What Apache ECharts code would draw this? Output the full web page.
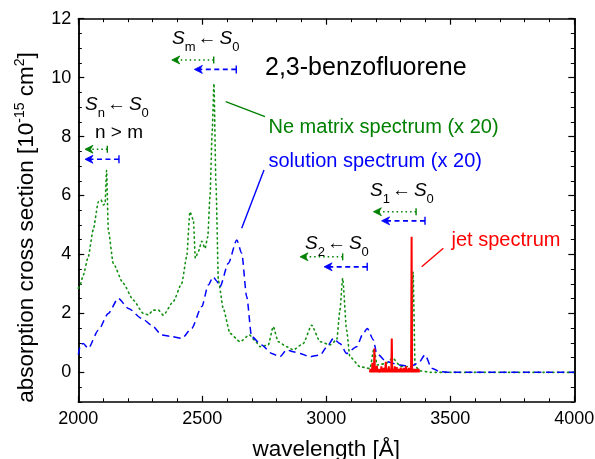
<!DOCTYPE html>
<html>
<head>
<meta charset="utf-8">
<script src="https://cdn.jsdelivr.net/npm/echarts@6/dist/echarts.min.js"></script>
<style>
  html, body { margin: 0; padding: 0; background: #fff; }
  #chart { width: 595px; height: 459px; }
</style>
</head>
<body>
<div id="chart"></div>
<script>
// Ne-matrix absorption spectrum (scaled x 20), cross section in 1e-15 cm^2
const neWavelength = [2000, 2007, 2020, 2040, 2060, 2081, 2092, 2101, 2108, 2114, 2121, 2141, 2181, 2222, 2262, 2282, 2302, 2323, 2343, 2383, 2417, 2437, 2450, 2464, 2472, 2484, 2498, 2511, 2522, 2531, 2540, 2547, 2555, 2565, 2585, 2612, 2652, 2690, 2710, 2733, 2766, 2786, 2806, 2840, 2867, 2907, 2941, 2975, 3015, 3042, 3055, 3066, 3082, 3095, 3136, 3176, 3192, 3205, 3240, 3268, 3300, 3342, 3350, 3358, 3380, 3420, 3500, 3600, 3700, 3800, 3900, 4000];
const neCross = [2.85, 2.96, 3.3, 3.92, 4.83, 5.79, 5.85, 5.68, 5.72, 6.85, 4.83, 3.7, 3.02, 2.45, 2.0, 1.95, 2.11, 2.11, 1.94, 2.4, 3.02, 3.92, 5.45, 5.17, 3.87, 4.1, 4.45, 4.2, 4.6, 5.96, 8.2, 9.8, 6.4, 3.1, 2.15, 1.32, 1.04, 1.27, 1.1, 0.87, 0.93, 1.55, 1.04, 0.87, 0.76, 0.98, 1.6, 1.04, 0.93, 1.1, 2.11, 3.19, 1.43, 0.53, 0.19, 0.13, 0.8, 0.25, 0.3, 0.48, 0.2, 0.2, 3.4, 0.2, 0.05, 0, 0, 0, 0, 0, 0, 0];

// Solution absorption spectrum (scaled x 20)
const solWavelength = [2000, 2010, 2020, 2040, 2081, 2121, 2161, 2202, 2256, 2296, 2336, 2377, 2417, 2457, 2498, 2524, 2544, 2558, 2571, 2605, 2639, 2659, 2679, 2699, 2739, 2780, 2813, 2840, 2867, 2894, 2934, 2975, 3008, 3028, 3055, 3082, 3122, 3149, 3165, 3190, 3203, 3243, 3297, 3337, 3371, 3398, 3425, 3458, 3500, 3600, 3700, 3800, 3900, 4000];
const solCross = [0.6, 0.95, 0.98, 0.81, 1.43, 2.0, 2.51, 2.17, 1.83, 1.6, 1.27, 1.21, 1.15, 1.49, 2.23, 2.96, 3.24, 3.1, 2.9, 3.7, 4.49, 4.04, 2.57, 1.21, 0.93, 0.64, 0.53, 0.76, 0.7, 0.64, 0.53, 0.59, 0.93, 1.15, 0.98, 0.64, 0.87, 1.32, 1.49, 1.1, 0.64, 0.36, 0.25, 0.19, 0.31, 0.59, 0.14, 0.02, 0, 0, 0, 0, 0, 0];

// Jet (gas phase) spectrum, 2 Å sampling
const jetWavelength = [3176, 3178, 3180, 3182, 3184, 3186, 3188, 3190, 3192, 3194, 3196, 3198, 3200, 3202, 3204, 3206, 3208, 3210, 3212, 3214, 3216, 3218, 3220, 3222, 3224, 3226, 3228, 3230, 3232, 3234, 3236, 3238, 3240, 3242, 3244, 3246, 3248, 3250, 3252, 3254, 3256, 3258, 3260, 3262, 3264, 3266, 3268, 3270, 3272, 3274, 3276, 3278, 3280, 3282, 3284, 3286, 3288, 3290, 3292, 3294, 3296, 3298, 3300, 3302, 3304, 3306, 3308, 3310, 3312, 3314, 3316, 3318, 3320, 3322, 3324, 3326, 3328, 3330, 3332, 3334, 3336, 3338, 3340, 3342, 3344, 3346, 3348, 3350, 3352, 3354, 3356, 3358, 3360, 3362, 3364, 3366, 3368, 3370, 3372, 3374];
const jetCross = [0, 0.12, 0, 0.1, 0, 0.32, 0, 0.12, 0.02, 0.81, 0, 0.12, 0, 0.1, 0.22, 0, 0.12, 0, 0.1, 0.16, 0, 0.12, 0, 0.2, 0, 0.1, 0, 0.15, 0, 0.1, 0, 0.12, 0.36, 0, 0.12, 0, 0.1, 0, 0.2, 0, 0.12, 0, 0.1, 0.02, 1.15, 0, 0.12, 0, 0.1, 0, 0.2, 0, 0.12, 0, 0.18, 0, 0.1, 0, 0.12, 0, 0.1, 0, 0.16, 0, 0.12, 0, 0.1, 0, 0.15, 0, 0.1, 0, 0.12, 0.2, 0, 0.1, 0, 0.12, 0, 0.15, 0, 0.1, 0, 0.12, 4.6, 0, 0.12, 0, 0.1, 0, 0.12, 0, 0.1, 0, 0.12, 0, 0.1, 0, 0.12, 0];

// Axis ticks
const xMajorTicks = [2000, 2500, 3000, 3500, 4000];
const yMajorTicks = [0, 2, 4, 6, 8, 10, 12];

// Electronic transitions: onset (right end) and extent (arrow tip) for each medium
const bandNames = ['Sn', 'Sm', 'S2', 'S1'];
const neBandOnset = [2117, 2546, 3066, 3362];
const neBandTip = [2027, 2377, 2894, 3190];
const neBandLevel = [7.57, 10.6, 3.92, 5.45];
const solBandOnset = [2164, 2637, 3165, 3398];
const solBandTip = [2027, 2468, 2991, 3223];
const solBandLevel = [7.23, 10.28, 3.58, 5.14];

const FONT = '"Liberation Sans", Arial, sans-serif';
const GREEN = '#008000';
const BLUE = '#0000ff';
const RED = '#ff0000';

const pairs = (xs, ys) => xs.map((x, i) => [x, ys[i]]);

const frameLine = { show: true, onZero: false, lineStyle: { color: '#000', width: 1.5 } };

function xAxisDef(pos, labelled) {
  return {
    type: 'value', position: pos, min: 2000, max: 4000, interval: 500,
    axisLine: frameLine,
    axisTick: { show: true, inside: true, length: 6, lineStyle: { color: '#000', width: 1.2 } },
    minorTick: { show: true, splitNumber: 5, length: 3.5, lineStyle: { color: '#000', width: 1 } },
    axisLabel: {
      show: labelled, fontSize: 18, color: '#000', fontFamily: FONT, margin: 8,
      showMinLabel: true, showMaxLabel: true,
      formatter: v => xMajorTicks.includes(v) ? String(v) : ''
    },
    splitLine: { show: false },
    name: labelled ? 'wavelength [Å]' : '',
    nameLocation: 'middle', nameGap: 36,
    nameTextStyle: { fontSize: 22.5, color: '#000', fontFamily: FONT }
  };
}

function yAxisDef(pos, labelled, major) {
  return {
    type: 'value', position: pos, min: -1, max: 12,
    interval: major ? undefined : 0.5,
    axisLine: frameLine,
    axisTick: major
      ? { show: true, inside: true, length: 6, customValues: yMajorTicks, lineStyle: { color: '#000', width: 1.2 } }
      : { show: true, inside: true, length: 3.5, lineStyle: { color: '#000', width: 1 } },
    axisLabel: major
      ? { show: labelled, customValues: yMajorTicks, fontSize: 18, color: '#000', fontFamily: FONT, margin: 7 }
      : { show: false },
    splitLine: { show: false }
  };
}

const chart = echarts.init(document.getElementById('chart'));

chart.setOption({
  animation: false,
  backgroundColor: '#fff',
  grid: { left: 78.3, right: 20.7, top: 18.7, bottom: 57.2, containLabel: false, outerBoundsMode: 'none' },
  xAxis: [xAxisDef('bottom', true), xAxisDef('top', false)],
  yAxis: [yAxisDef('left', true, true), yAxisDef('left', false, false),
          yAxisDef('right', false, true), yAxisDef('right', false, false)],
  series: [
    {
      name: 'Ne matrix', type: 'line', xAxisIndex: 0, yAxisIndex: 0,
      data: pairs(neWavelength, neCross), symbol: 'none', smooth: 0.2, smoothMonotone: 'x',
      lineStyle: { color: '#139013', width: 1.6, type: [1.3, 3.6], cap: 'round' }, z: 2
    },
    {
      name: 'solution', type: 'line', xAxisIndex: 0, yAxisIndex: 0,
      data: pairs(solWavelength, solCross), symbol: 'none', smooth: 0.25, smoothMonotone: 'x',
      lineStyle: { color: BLUE, width: 1.5, type: [7, 4.5] }, z: 3
    },
    {
      name: 'jet', type: 'line', xAxisIndex: 0, yAxisIndex: 0,
      data: pairs(jetWavelength, jetCross), symbol: 'none',
      lineStyle: { color: RED, width: 2 }, z: 4
    }
  ]
});

const toPx = (w, v) => chart.convertToPixel({ xAxisIndex: 0, yAxisIndex: 0 }, [w, v]);

// range arrow: bar at onset, arrowhead at tip
function bandArrow(onset, tip, level, color, dash, barHalf) {
  const a = toPx(onset, level);
  const b = toPx(tip, level);
  const y = a[1];
  return [
    { type: 'line', shape: { x1: a[0], y1: y, x2: b[0] + 5, y2: y },
      style: { stroke: color, lineWidth: 1.6, lineDash: dash }, z: 10 },
    { type: 'line', shape: { x1: a[0], y1: y - barHalf, x2: a[0], y2: y + barHalf },
      style: { stroke: color, lineWidth: 1.4 }, z: 10 },
    { type: 'polygon', shape: { points: [[b[0], y], [b[0] + 8, y - 4], [b[0] + 5.5, y], [b[0] + 8, y + 4]] },
      style: { fill: color, stroke: color, lineWidth: 0.8 }, z: 10 }
  ];
}

// "S_a ← S_b" label with left edge x and vertical centre y
function stateLabel(x, y, upper, lower) {
  return {
    type: 'text', x: x, y: y, z: 10,
    style: {
      text: '{s|S}{b|' + upper + '}{a|←}{s|S}{b|' + lower + '}',
      align: 'left', verticalAlign: 'middle', fill: '#000',
      rich: {
        s: { fontFamily: FONT, fontStyle: 'italic', fontSize: 19, lineHeight: 30, verticalAlign: 'middle', fill: '#000' },
        b: { fontFamily: FONT, fontSize: 13, lineHeight: 13, verticalAlign: 'bottom', fill: '#000' },
        a: { fontFamily: FONT, fontSize: 19, lineHeight: 30, verticalAlign: 'middle', padding: [0, 3, 0, 2], fill: '#000' }
      }
    }
  };
}

function plainText(x, y, text, color, size) {
  return {
    type: 'text', x: x, y: y, z: 10,
    style: { text: text, fill: color, fontFamily: FONT, fontSize: size, align: 'left', verticalAlign: 'middle' }
  };
}

const els = [];
for (let i = 0; i < bandNames.length; i++) {
  els.push(...bandArrow(neBandOnset[i], neBandTip[i], neBandLevel[i], GREEN, [1.5, 3], 3.5));
  els.push(...bandArrow(solBandOnset[i], solBandTip[i], solBandLevel[i], BLUE, [5, 3.5], 4));
}

els.push(
  stateLabel(85, 105, 'n', '0'),
  plainText(95, 133, 'n > m', '#000', 19),
  stateLabel(172, 39, 'm', '0'),
  stateLabel(305, 243.5, '2', '0'),
  stateLabel(370, 190.5, '1', '0'),
  plainText(265, 68.5, '2,3-benzofluorene', '#000', 25),
  plainText(268.5, 127, 'Ne matrix spectrum (x 20)', GREEN, 20),
  plainText(268.5, 161, 'solution spectrum (x 20)', BLUE, 20),
  plainText(451.5, 240, 'jet spectrum', RED, 20),
  { type: 'line', shape: { x1: 225.7, y1: 101.7, x2: 265, y2: 116.7 }, style: { stroke: GREEN, lineWidth: 1.4 }, z: 10 },
  { type: 'line', shape: { x1: 241.7, y1: 228.3, x2: 264, y2: 170 }, style: { stroke: BLUE, lineWidth: 1.4 }, z: 10 },
  { type: 'line', shape: { x1: 421.7, y1: 266.7, x2: 443.3, y2: 248.3 }, style: { stroke: RED, lineWidth: 1.4 }, z: 10 },
  {
    type: 'text', x: 27, y: 227.5, rotation: Math.PI / 2, z: 10,
    style: {
      text: 'absorption cross section [10{sup|-15} cm{sup|2}]',
      fill: '#000', fontFamily: FONT, fontSize: 22.5, lineHeight: 28,
      align: 'center', verticalAlign: 'middle',
      rich: { sup: { fontFamily: FONT, fontSize: 14, lineHeight: 14, verticalAlign: 'top', fill: '#000' } }
    }
  }
);

chart.setOption({ graphic: { elements: els } });
</script>
</body>
</html>
